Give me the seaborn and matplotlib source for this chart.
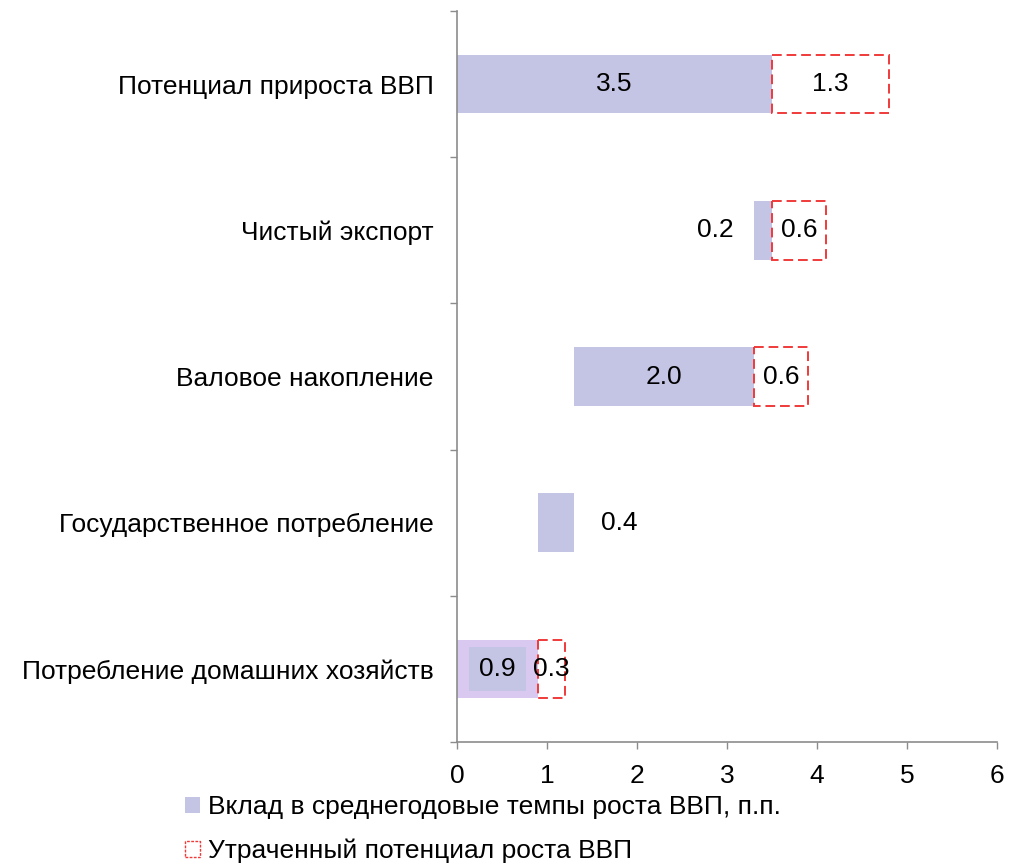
import matplotlib
matplotlib.use("Agg")
import matplotlib.pyplot as plt
from matplotlib.patches import Patch
import pandas as pd
import seaborn as sns


categories = [
    "Потенциал прироста ВВП",
    "Чистый экспорт",
    "Валовое накопление",
    "Государственное потребление",
    "Потребление домашних хозяйств",
]
contrib = [3.5, 0.2, 2.0, 0.4, 0.9]
contrib_start = [0.0, 3.3, 1.3, 0.9, 0.0]

lost_categories = [
    "Потенциал прироста ВВП",
    "Чистый экспорт",
    "Валовое накопление",
    "Потребление домашних хозяйств",
]
lost = [1.3, 0.6, 0.6, 0.3]
lost_start = [3.5, 3.5, 3.3, 0.9]

x_ticks = [0, 1, 2, 3, 4, 5, 6]
legend_labels = ["Вклад в среднегодовые темпы роста ВВП, п.п.", "Утраченный потенциал роста ВВП"]

BAR = "#c4c4e4"
BAR_LIGHT = "#d9c9f1"
RED = "#f03a3a"
GRAY = "#8c8c8c"

sns.set_style("white")
plt.rcParams["font.family"] = ["Liberation Sans", "DejaVu Sans"]
plt.rcParams["text.color"] = "black"
plt.rcParams["xtick.labelcolor"] = "black"
plt.rcParams["ytick.labelcolor"] = "black"
FS = 19

contrib_df = pd.DataFrame({"cat": categories, "value": contrib})
lost_df = pd.DataFrame({"cat": lost_categories, "value": lost})

fig = plt.figure(figsize=(10.1, 8.65), dpi=100)
ax = fig.add_axes([0.4525, 0.1422, 0.5345, 0.845])

sns.barplot(
    data=contrib_df, x="value", y="cat", order=categories, color=BAR,
    width=0.4, left=contrib_start, linewidth=0, saturation=1, ax=ax,
)
# household bar is drawn in a lighter shade in the original
ax.patches[categories.index("Потребление домашних хозяйств")].set_facecolor(BAR_LIGHT)

sns.barplot(
    data=lost_df, x="value", y="cat", order=categories, color="white",
    width=0.4, left=lost_start, edgecolor=RED, linewidth=1.4,
    linestyle=(0, (5, 2.5)), saturation=1, ax=ax,
)

# value labels
ypos = {c: i for i, c in enumerate(categories)}
for c, v, s in zip(categories, contrib, contrib_start):
    y = ypos[c]
    if c == "Чистый экспорт":
        ax.text(s - 0.23, y, f"{v:.1f}", ha="right", va="center", fontsize=FS)
    elif c == "Государственное потребление":
        ax.text(s + v + 0.3, y, f"{v:.1f}", ha="left", va="center", fontsize=FS)
    elif c == "Потребление домашних хозяйств":
        ax.text(s + v / 2, y, f"{v:.1f}", ha="center", va="center", fontsize=FS,
                bbox=dict(facecolor=BAR, edgecolor="none", pad=7))
    else:
        ax.text(s + v / 2, y, f"{v:.1f}", ha="center", va="center", fontsize=FS)
for c, v, s in zip(lost_categories, lost, lost_start):
    ax.text(s + v / 2, ypos[c], f"{v:.1f}", ha="center", va="center", fontsize=FS)

ax.set_xlim(0, 6)
ax.set_ylim(4.5, -0.5)
ax.set_xticks(x_ticks)
ax.set_xticklabels([str(t) for t in x_ticks], fontsize=FS)
ax.set_yticks([i - 0.5 for i in range(len(categories) + 1)])
ax.set_yticklabels([])
ax.set_yticks(range(len(categories)), minor=True)
ax.set_yticklabels(categories, minor=True, fontsize=FS)
ax.tick_params(axis="y", which="minor", length=0, pad=17)
ax.tick_params(axis="y", which="major", length=5, width=1, color=GRAY, direction="out", left=True)
ax.tick_params(axis="x", length=5, width=1, color=GRAY, direction="out", bottom=True, pad=11)
ax.set_xlabel("")
ax.set_ylabel("")
for side in ["top", "right"]:
    ax.spines[side].set_visible(False)
for side in ["left", "bottom"]:
    ax.spines[side].set_color(GRAY)
    ax.spines[side].set_linewidth(1.2)

handles = [
    Patch(facecolor=BAR, edgecolor="none"),
    Patch(facecolor="white", edgecolor=RED, linestyle=(0, (2, 1)), linewidth=1),
]
fig.legend(
    handles, legend_labels, loc="upper left", bbox_to_anchor=(0.173, 0.093),
    frameon=False, fontsize=FS, handlelength=0.55, handleheight=0.55,
    handletextpad=0.3, labelspacing=0.75, borderaxespad=0,
)

fig.savefig("out.png", dpi=100)
